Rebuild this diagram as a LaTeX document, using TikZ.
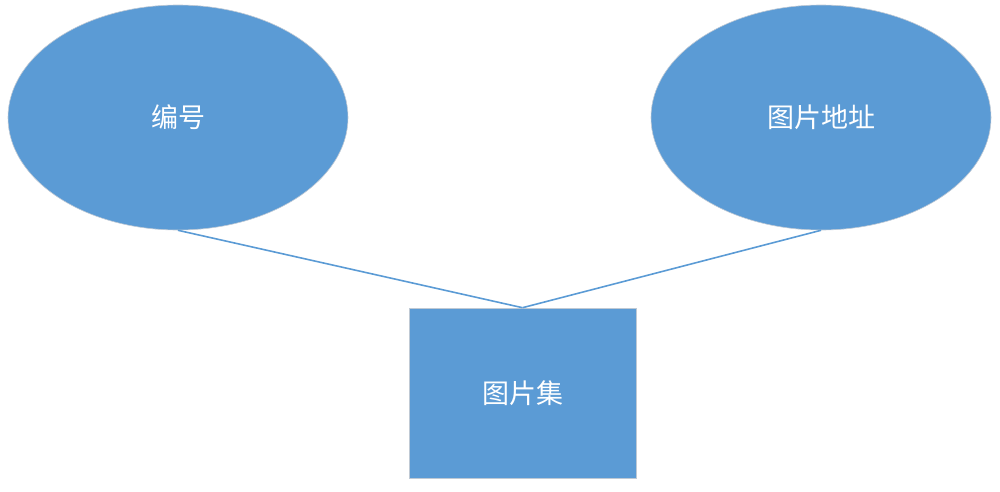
\documentclass[tikz,border=0pt]{standalone}
\usepackage{fontspec}
\usepackage{xcolor}
\usepackage{tikz}
\usetikzlibrary{shapes.geometric}
\newfontfamily\cjk{Noto Sans CJK SC}
\definecolor{EBlue}{HTML}{5B9BD5}
\definecolor{EEdge}{HTML}{BFC9D4}

\begin{document}
\begin{tikzpicture}[
  x=1pt,y=-1pt,
  every node/.style={font=\cjk\fontsize{27}{32}\selectfont,text=white},
  attr/.style={ellipse,fill=EBlue,draw=EEdge,line width=0.6pt,
    minimum width=340pt,minimum height=225pt,inner sep=0pt},
  entity/.style={rectangle,fill=EBlue,draw=EEdge,line width=0.6pt,
    minimum width=227pt,minimum height=170pt,inner sep=0pt},
  link/.style={color=EBlue,line width=1.6pt}
]
  \useasboundingbox (0,0) rectangle (1000,491);
  \node[attr] (bianhao) at (178,117.5) {编号};
  \node[attr] (dizhi) at (821,117.5) {图片地址};
  \node[entity] (tupianji) at (522.5,393) {图片集};

  \foreach \a in {bianhao,dizhi} {\draw[link] (\a.south) -- (tupianji.north);}
\end{tikzpicture}
\end{document}
